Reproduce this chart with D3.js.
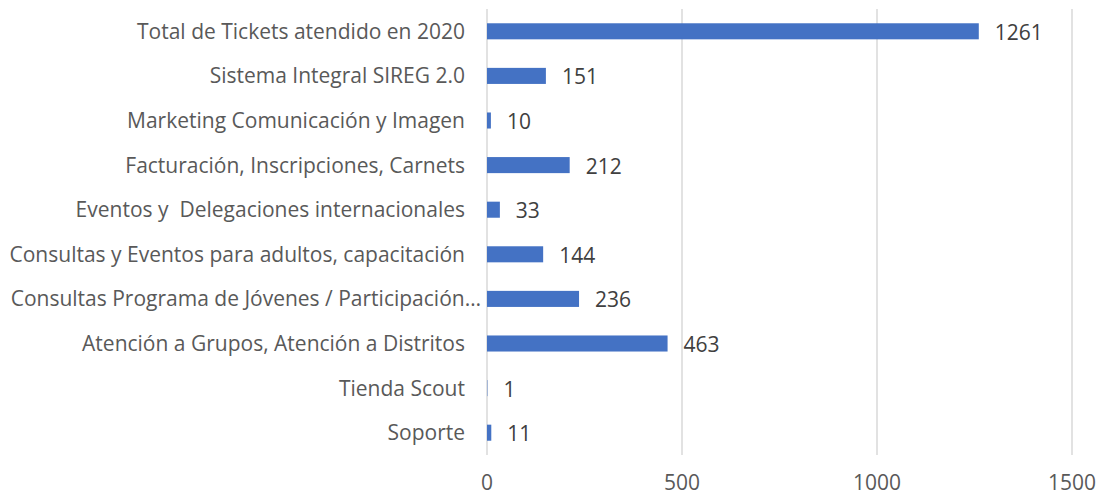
<!DOCTYPE html>
<html>
<head>
<meta charset="utf-8">
<script src="https://cdn.jsdelivr.net/npm/d3@7"></script>
<style>
  html, body { margin: 0; padding: 0; background: #fff; }
  svg { display: block; font-family: "Open Sans", Lato, sans-serif; }
</style>
</head>
<body>
<svg id="chart" width="1098" height="495"></svg>
<script>
// Ticket categories, listed top to bottom
const categories = [
  "Total de Tickets atendido en 2020",
  "Sistema Integral SIREG 2.0",
  "Marketing Comunicación y Imagen",
  "Facturación, Inscripciones, Carnets",
  "Eventos y  Delegaciones internacionales",
  "Consultas y Eventos para adultos, capacitación",
  "Consultas Programa de Jóvenes / Participación…",
  "Atención a Grupos, Atención a Distritos",
  "Tienda Scout",
  "Soporte"
];
const ticketCounts = [1261, 151, 10, 212, 33, 144, 236, 463, 1, 11];
const xTicks = [0, 500, 1000, 1500];

const svg = d3.select("#chart");
const plotLeft = 487, plotRight = 1072, plotTop = 9, plotBottom = 455;
const fontSize = 21;

const x = d3.scaleLinear().domain([0, 1500]).range([plotLeft, plotRight]);
const y = d3.scaleBand().domain(categories).range([plotTop, plotBottom]).paddingInner(0.64).paddingOuter(0.32);

// vertical gridlines
svg.append("g")
  .selectAll("line")
  .data(xTicks)
  .join("line")
  .attr("x1", d => x(d)).attr("x2", d => x(d))
  .attr("y1", plotTop).attr("y2", plotBottom)
  .attr("stroke", "#d9d9d9")
  .attr("stroke-width", 1.5);

// x tick labels
svg.append("g")
  .selectAll("text")
  .data(xTicks)
  .join("text")
  .attr("x", d => x(d))
  .attr("y", 490)
  .attr("text-anchor", "middle")
  .attr("fill", "#595959")
  .attr("font-size", fontSize)
  .text(d => d);

const rows = categories.map((c, i) => ({ c, v: ticketCounts[i] }));

// bars
svg.append("g")
  .selectAll("rect")
  .data(rows)
  .join("rect")
  .attr("x", x(0))
  .attr("y", d => y(d.c))
  .attr("width", d => x(d.v) - x(0))
  .attr("height", y.bandwidth())
  .attr("fill", "#4472C4");

// category labels (a truncated label runs a little closer to the axis)
svg.append("g")
  .selectAll("text")
  .data(rows)
  .join("text")
  .attr("x", d => plotLeft - (d.c.endsWith("…") ? 6 : 22))
  .attr("y", d => y(d.c) + y.bandwidth() / 2)
  .attr("dy", "0.36em")
  .attr("text-anchor", "end")
  .attr("fill", "#595959")
  .attr("font-size", fontSize)
  .style("white-space", "pre")
  .text(d => d.c);

// value labels
svg.append("g")
  .selectAll("text")
  .data(rows)
  .join("text")
  .attr("x", d => x(d.v) + 16)
  .attr("y", d => y(d.c) + y.bandwidth() / 2)
  .attr("dy", "0.4em")
  .attr("fill", "#404040")
  .attr("font-size", fontSize)
  .text(d => d.v);
</script>
</body>
</html>
